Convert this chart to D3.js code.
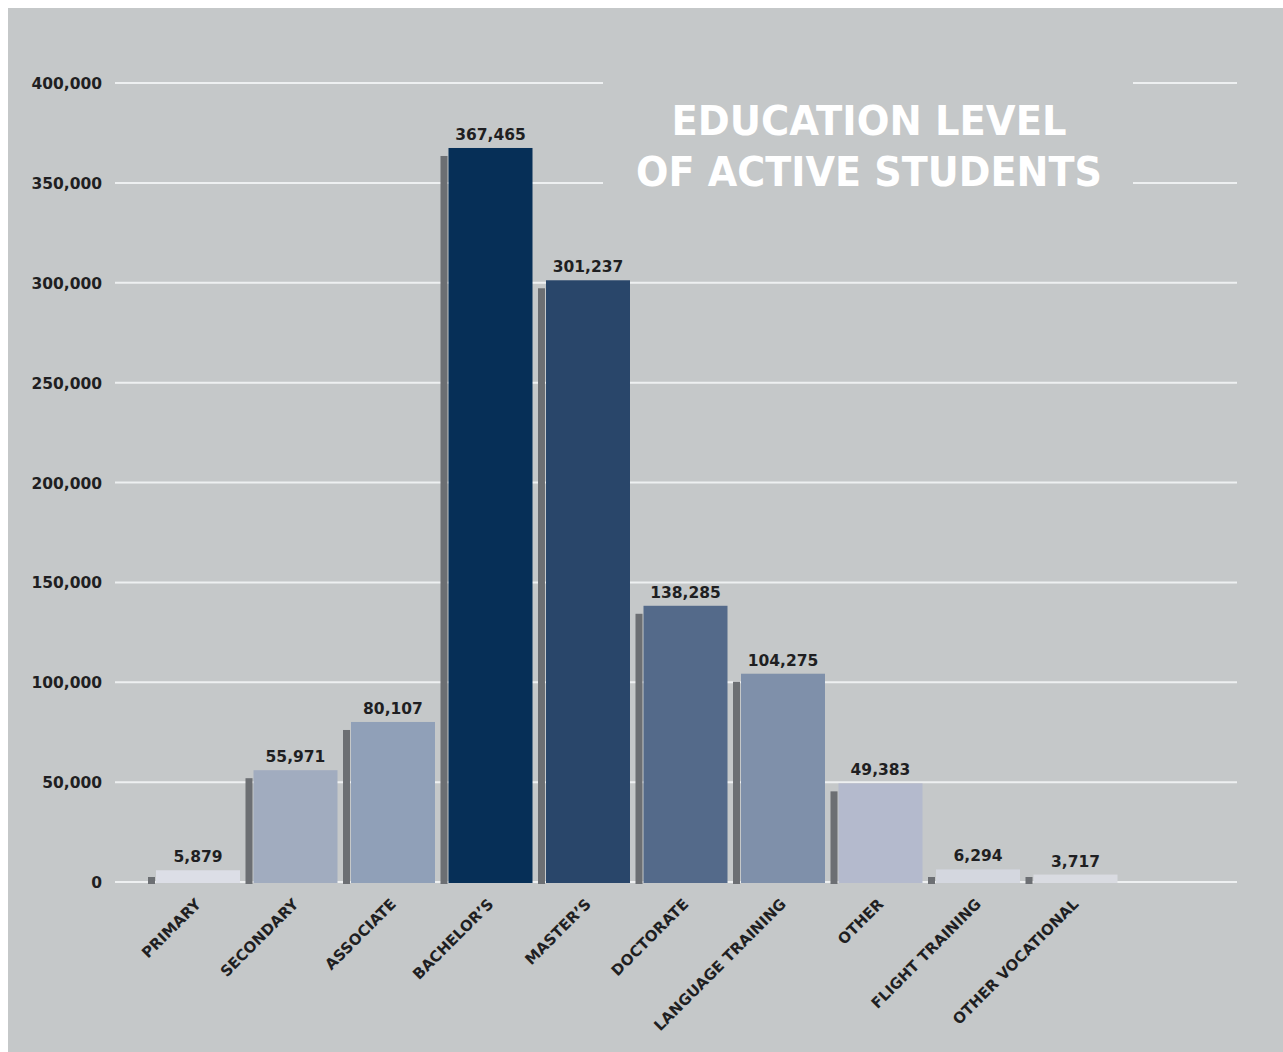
<!DOCTYPE html>
<html>
<head>
<meta charset="utf-8">
<script src="https://cdn.jsdelivr.net/npm/d3@7/dist/d3.min.js"></script>
<style>
  body { margin: 0; background: #fff; }
  svg { display: block; }
  .tick-label { font-family: "DejaVu Sans", Lato, sans-serif; font-weight: 700; fill: #1f1f22; }
  .title { font-family: "DejaVu Sans", "Open Sans", sans-serif; font-weight: 700; fill: #fff; }
</style>
</head>
<body>
<svg id="chart"></svg>
<script>
// categories and values
const categories = ["PRIMARY", "SECONDARY", "ASSOCIATE", "BACHELOR\u2019S", "MASTER\u2019S",
  "DOCTORATE", "LANGUAGE TRAINING", "OTHER", "FLIGHT TRAINING", "OTHER VOCATIONAL"];
const students = [5879, 55971, 80107, 367465, 301237, 138285, 104275, 49383, 6294, 3717];
const barColors = ["#dcdee6", "#a1acbf", "#90a0b8", "#062f57", "#29466a",
  "#546a8a", "#7f90aa", "#b4bacd", "#d4d7df", "#d9dbe1"];
const yTicks = [0, 50000, 100000, 150000, 200000, 250000, 300000, 350000, 400000];
const titleLines = ["EDUCATION LEVEL", "OF ACTIVE STUDENTS"];

const W = 1283, H = 1052;
const bg = "#c5c8c9";
const svg = d3.select("#chart").attr("width", W).attr("height", H);

// gray panel
svg.append("rect").attr("x", 8).attr("y", 8).attr("width", W - 8).attr("height", H - 8)
  .attr("fill", bg);

// scales
const y = d3.scaleLinear().domain([0, 400000]).range([882, 83]);
const x = d3.scaleBand().domain(categories).range([148, 1123]).padding(0);
const shadowW = 7, barW = 84;
const fmt = d3.format(",");

// grid lines
svg.append("g").selectAll("line").data(yTicks).join("line")
  .attr("x1", 115).attr("x2", 1237)
  .attr("y1", d => y(d)).attr("y2", d => y(d))
  .attr("stroke", "#eef0f1").attr("stroke-width", 2);

// y tick labels
svg.append("g").selectAll("text").data(yTicks).join("text")
  .attr("class", "tick-label")
  .attr("x", 102).attr("y", d => y(d) + 6)
  .attr("text-anchor", "end").attr("font-size", 15.5)
  .text(d => fmt(d));

// title block knocks out the grid lines behind it
svg.append("rect").attr("x", 603).attr("y", 70).attr("width", 530).attr("height", 130)
  .attr("fill", bg);
svg.append("g").selectAll("text").data(titleLines).join("text")
  .attr("class", "title")
  .attr("text-anchor", "middle").attr("font-size", 41)
  .attr("x", 869).attr("y", (d, i) => 135 + i * 51)
  .attr("textLength", (d, i) => i === 0 ? 395 : 466)
  .attr("lengthAdjust", "spacingAndGlyphs")
  .text(d => d);

const data = categories.map((c, i) => ({ cat: c, value: students[i], color: barColors[i] }));

// shadow bars
const shTop = d => Math.min(y(d.value) + 8, 877);
svg.append("g").selectAll("rect").data(data).join("rect")
  .attr("x", d => x(d.cat))
  .attr("y", shTop)
  .attr("width", shadowW)
  .attr("height", d => 884 - shTop(d))
  .attr("fill", "#6c6f73");

// main bars
svg.append("g").selectAll("rect").data(data).join("rect")
  .attr("x", d => x(d.cat) + shadowW + 1)
  .attr("y", d => y(d.value))
  .attr("width", barW)
  .attr("height", d => 883 - y(d.value))
  .attr("fill", d => d.color);

// value labels
svg.append("g").selectAll("text").data(data).join("text")
  .attr("class", "tick-label")
  .attr("x", d => x(d.cat) + shadowW + 1 + barW / 2)
  .attr("y", d => y(d.value) - 8)
  .attr("text-anchor", "middle").attr("font-size", 15.5)
  .text(d => fmt(d.value));

// rotated category labels
svg.append("g").selectAll("text").data(data).join("text")
  .attr("class", "tick-label")
  .attr("font-size", 15)
  .attr("text-anchor", "end")
  .attr("transform", d => `translate(${x(d.cat) + shadowW + barW / 2 + 5},${905}) rotate(-45)`)
  .text(d => d.cat);
</script>
</body>
</html>
